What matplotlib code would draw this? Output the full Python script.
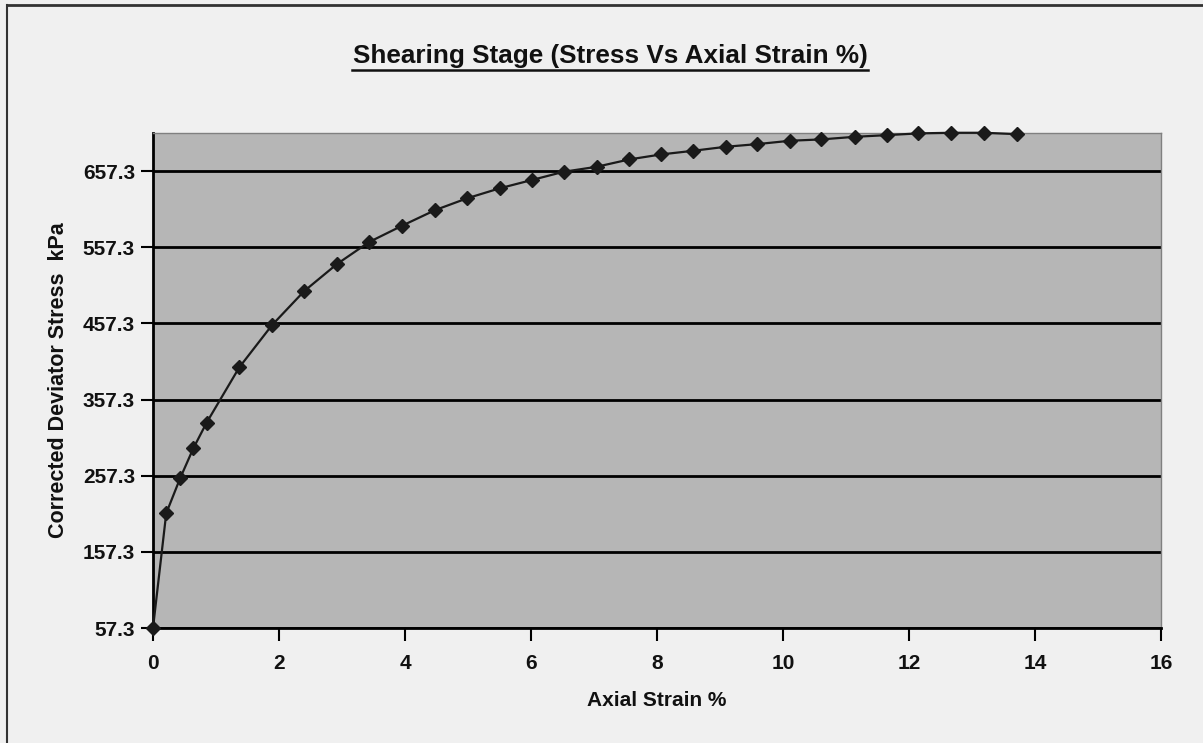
import matplotlib.pyplot as plt
from matplotlib.lines import Line2D

# Shearing stage readings: axial strain (%) vs corrected deviator stress (kPa)
strain = [0.0, 0.21, 0.43, 0.64, 0.85, 1.37, 1.89, 2.40, 2.92, 3.43,
          3.96, 4.48, 4.98, 5.50, 6.01, 6.52, 7.04, 7.56, 8.07, 8.57,
          9.09, 9.59, 10.11, 10.61, 11.14, 11.65, 12.15, 12.67, 13.19, 13.71]
stress = [57.3, 207.9, 253.8, 293.2, 326.8, 399.6, 455.1, 499.7, 535.2, 564.1,
          585.8, 606.1, 621.4, 634.6, 645.5, 656.4, 662.9, 672.6, 679.2, 683.9,
          689.2, 692.7, 697.1, 698.9, 702.3, 704.5, 706.8, 707.6, 707.6, 705.8]

y_ticks = [57.3, 157.3, 257.3, 357.3, 457.3, 557.3, 657.3]
x_ticks = [0, 2, 4, 6, 8, 10, 12, 14, 16]

plt.rcParams['font.family'] = ['Liberation Sans', 'DejaVu Sans']

fig = plt.figure(figsize=(12.03, 7.43), dpi=100)
fig.patch.set_facecolor('#f0f0f0')

# outer chart frame (only top and left edges visible in the scan)
fig.add_artist(Line2D([7 / 1203, 7 / 1203], [0, 1 - 5 / 743], color='#333333', lw=1.5))
fig.add_artist(Line2D([7 / 1203, 1], [1 - 5 / 743, 1 - 5 / 743], color='#333333', lw=2))

ax = fig.add_axes([153 / 1203, 115 / 743, 1008 / 1203, 495 / 743])
ax.set_facecolor('#b6b6b6')

ax.plot(strain, stress, color='#1a1a1a', lw=1.6, marker='D', markersize=7.5,
        markerfacecolor='#1a1a1a', markeredgecolor='#1a1a1a', clip_on=False, zorder=5)

ax.set_xlim(0, 16)
ax.set_ylim(57.3, 707.3)
ax.set_xticks(x_ticks)
ax.set_yticks(y_ticks)
ax.set_yticklabels([f'{v:.1f}' for v in y_ticks])
ax.set_xticklabels([str(v) for v in x_ticks])

ax.grid(axis='y', color='black', lw=2)
ax.set_axisbelow(True)

for s in ['top', 'right']:
    ax.spines[s].set_color('#808080')
    ax.spines[s].set_linewidth(1)
for s in ['left', 'bottom']:
    ax.spines[s].set_color('black')
    ax.spines[s].set_linewidth(2)

ax.tick_params(axis='both', direction='out', length=9, width=1.5, color='black',
               labelsize=15)
ax.tick_params(axis='y', pad=4)
ax.tick_params(axis='x', pad=10)
for lbl in ax.get_xticklabels() + ax.get_yticklabels():
    lbl.set_fontweight('bold')
    lbl.set_color('#111111')

ax.set_xlabel('Axial Strain %', fontsize=15, fontweight='bold', color='#111111', labelpad=13)
ax.set_ylabel('Corrected Deviator Stress  kPa', fontsize=15.5, fontweight='bold',
              color='#111111', labelpad=10)

# underlined title
fig.text(610 / 1203, 1 - 56 / 743, 'Shearing Stage (Stress Vs Axial Strain %)',
         ha='center', va='center', fontsize=18.8, fontweight='bold', color='#111111')
fig.add_artist(Line2D([352 / 1203, 868 / 1203], [1 - 70 / 743, 1 - 70 / 743],
                      color='#111111', lw=1.8))

fig.savefig('out.png', dpi=100, facecolor=fig.get_facecolor())
